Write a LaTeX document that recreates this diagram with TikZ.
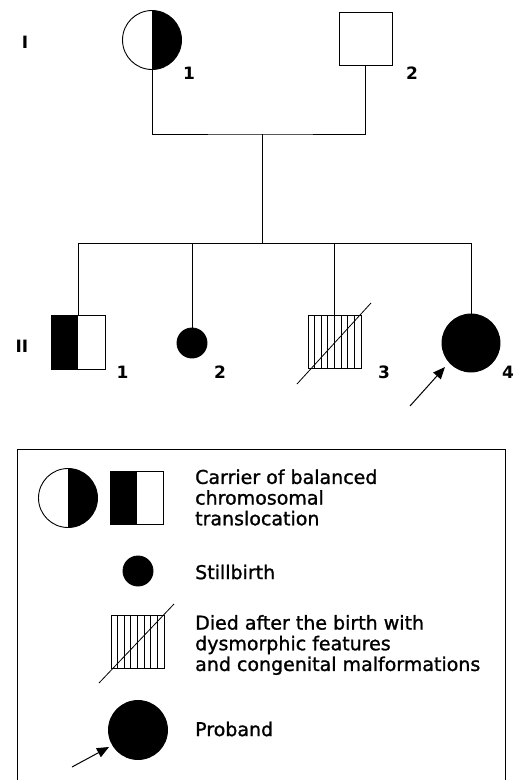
\documentclass[tikz,border=0pt]{standalone}
\usepackage{fontspec}
\setmainfont{DejaVu Sans}
\newfontfamily\keyfont[FakeBold=1.2]{DejaVu Sans}
\usetikzlibrary{arrows.meta}

\tikzset{
  person/.style={draw=black, line width=0.9pt, inner sep=0pt, outer sep=0pt},
  female/.style={person, circle, minimum size=#1},
  male/.style={person, rectangle, minimum size=#1},
  affected/.style={fill=black},
  carrierright/.style={path picture={\fill[black] (path picture bounding box.north) rectangle (path picture bounding box.south east);}},
  carrierleft/.style={path picture={\fill[black] (path picture bounding box.north west) rectangle (path picture bounding box.south);}},
  hatched/.style={path picture={
      \foreach \k in {1,...,7}{
        \draw[line width=0.8pt] ([xshift={\k*#1/8}]path picture bounding box.south west)
          -- ([xshift={\k*#1/8}]path picture bounding box.north west);}}},
  line/.style={line width=0.8pt},
  slash/.style={line width=0.8pt},
  pointer/.style={line width=1pt, -{Triangle[length=12pt,width=10pt]}},
  gen/.style={font=\fontsize{17}{20}\selectfont\bfseries, inner sep=0pt},
  idlabel/.style={font=\fontsize{17}{20}\selectfont\bfseries, inner sep=0pt},
  legtext/.style={font=\keyfont\fontsize{19}{20.7}\selectfont, align=left, anchor=west, inner sep=0pt}
}

\begin{document}
\begin{tikzpicture}[x=1pt, y=-1pt]
\useasboundingbox (0,0) rectangle (526,780);

% generation labels
\node[gen] (gI)  at (25,42)  {I};
\node[gen] (gII) at (22,346) {II};

% generation I
\node[female=59pt, carrierright] (I1) at (152,40) {};
\node[male=53pt] (I2) at (365.5,39) {};
\node[idlabel] (nI1) at (189,73) {1};
\node[idlabel] (nI2) at (412,73) {2};

% generation II
\node[male=54pt, carrierleft] (II1) at (78,342) {};
\node[female=30pt, affected] (II2) at (192,343) {};
\node[male=53pt, hatched=53pt] (II3) at (334.5,342) {};
\node[female=58pt, affected] (II4) at (471,343) {};
\node[idlabel] (nII1) at (122.5,372) {1};
\node[idlabel] (nII2) at (220,372) {2};
\node[idlabel] (nII3) at (384,372) {3};
\node[idlabel] (nII4) at (508,372) {4};

\draw[slash] ([shift={(-37.5,42)}]II3.center) -- ([shift={(36.5,-39)}]II3.center);
\coordinate (p4) at ([shift={(-61,63)}]II4.center);
\coordinate (t4) at ([shift={(-26,24)}]II4.center);
\draw[pointer] (p4) -- (t4);

% mating line and sibship
\coordinate (mate) at (262,134);
\coordinate (sib) at (262,243);
\draw[line] (I1.south) |- (mate) -| (I2.south);
\draw[line] (mate) -- (sib);
\draw[line] (II1.north) |- (II4.north |- sib) -- (II4.north);
\draw[line] (II2.north) -- (II2.north |- sib);
\draw[line] (II3.north) -- (II3.north |- sib);

% key
\draw[line] (17,780) -- (17,449) -- (505,449) -- (505,780);

\node[female=59pt, carrierright] (LC) at (68,498) {};
\node[male=53pt, carrierleft] (LS) at (137,497.5) {};
\node[legtext] (tC) at (195,497.5) {Carrier of balanced\\chromosomal\\translocation};

\node[female=30pt, affected] (LB) at (138,571) {};
\node[legtext] (tB) at (195,572) {Stillbirth};

\node[male=53pt, hatched=53pt] (LD) at (137.5,642) {};
\draw[slash] ([shift={(-38.5,41)}]LD.center) -- ([shift={(36.5,-38)}]LD.center);
\node[legtext] (tD) at (195,645) {Died after the birth with\\dysmorphic features\\and congenital malformations};

\node[female=59pt, affected] (LP) at (138,730) {};
\coordinate (pl) at ([shift={(-66,37)}]LP.center);
\coordinate (tl) at ([shift={(-29,17)}]LP.center);
\draw[pointer] (pl) -- (tl);
\node[legtext] (tP) at (195,729) {Proband};
\end{tikzpicture}
\end{document}
